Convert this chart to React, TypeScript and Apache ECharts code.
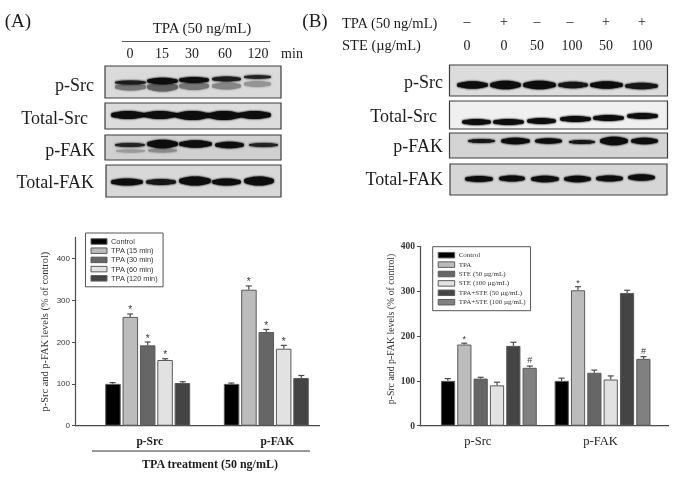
import React, { useEffect, useRef } from "react";
import * as echarts from "echarts";

const SERIF = '"Liberation Serif", serif';
const SANS = '"Liberation Sans", sans-serif';

const groups = ["p-Src", "p-FAK"];
const seriesNamesA = ["Control", "TPA (15 min)", "TPA (30 min)", "TPA (60 min)", "TPA (120 min)"];
const valuesA = [[100, 100], [260, 325], [192, 224], [157, 184], [102, 114]];
const errorsA = [[3, 2], [7, 9], [8, 6], [3, 8], [3, 6]];
const marksA = [["", ""], ["*", "*"], ["*", "*"], ["*", "*"], ["", ""]];
const coloursA = ["#000000", "#bcbcbc", "#666666", "#e2e2e2", "#444444"];

const seriesNamesB = ["Control", "TPA", "STE (50 µg/mL)", "STE (100 µg/mL)", "TPA+STE (50 µg/mL)", "TPA+STE (100 µg/mL)"];
const valuesB = [[100, 100], [181, 302], [105, 118], [90, 103], [178, 296], [129, 149]];
const errorsB = [[5, 6], [3, 8], [3, 6], [7, 8], [8, 6], [4, 5]];
const marksB = [["", ""], ["*", "*"], ["", ""], ["", ""], ["", ""], ["#", "#"]];
const coloursB = ["#000000", "#bcbcbc", "#666666", "#e2e2e2", "#444444", "#808080"];

const yTicksA = [0, 100, 200, 300, 400];
const yTicksB = [0, 100, 200, 300, 400];
const minutes = ["0", "15", "30", "60", "120"];
const tpaSigns = ["–", "+", "–", "–", "+", "+"];
const steDoses = ["0", "0", "50", "100", "50", "100"];

type Band = [number, number, number, number, string];
type Panel = { label: string; box: [number, number, number, number]; bg: string; bands: Band[] };

const panelsA: Panel[] = [
  { label: "p-Src", box: [105, 66, 176, 32], bg: "#dadada", bands: [
    [115, 146, 87, 7, "#747474"], [147, 178, 87, 9, "#606060"], [179, 209, 86, 8, "#747474"], [212, 241, 86, 7, "#858585"], [244, 271, 84, 6, "#959595"],
    [115, 146, 82.5, 4, "#1a1a1a"], [147, 178, 81, 6.5, "#111"], [179, 209, 80, 6, "#111"], [212, 241, 79, 5, "#1a1a1a"], [244, 271, 77, 3.5, "#222"],
  ] },
  { label: "Total-Src", box: [105, 103, 176, 26], bg: "#dcdcdc", bands: [
    [111, 145, 115, 8, "#0c0c0c"], [143, 177, 115, 8, "#0c0c0c"], [175, 210, 115.5, 9, "#0c0c0c"], [207, 241, 115.5, 9, "#0c0c0c"], [238, 271, 115, 8, "#0c0c0c"],
  ] },
  { label: "p-FAK", box: [105, 135, 176, 25], bg: "#d0d0d0", bands: [
    [116, 145, 151, 3, "#9a9a9a"], [148, 177, 150.5, 4, "#8a8a8a"],
    [115, 145, 145, 4, "#222"], [147, 178, 144, 8.5, "#0c0c0c"], [179, 212, 144, 7.5, "#0c0c0c"], [215, 244, 145, 6.5, "#111"], [249, 278, 145, 4, "#222"],
  ] },
  { label: "Total-FAK", box: [106, 165, 175, 32], bg: "#d8d8d8", bands: [
    [111, 143, 182, 7, "#111"], [146, 176, 182, 6, "#151515"], [179, 211, 181, 9, "#0c0c0c"], [212, 241, 182, 7, "#111"], [244, 274, 181, 9, "#0c0c0c"],
  ] },
];

const panelsB: Panel[] = [
  { label: "p-Src", box: [449.5, 65, 218, 31], bg: "#dcdcdc", bands: [
    [457, 488, 85, 7.5, "#0f0f0f"], [490, 521, 85, 8.5, "#0c0c0c"], [523, 556, 85, 8.5, "#0f0f0f"], [558, 588, 85, 6.5, "#151515"], [590, 623, 85, 7.5, "#0f0f0f"], [625, 658, 86, 6.5, "#151515"],
  ] },
  { label: "Total-Src", box: [449.5, 101, 218, 28], bg: "#f0f0f0", bands: [
    [462, 491, 122, 6, "#111"], [493, 524, 122, 6, "#111"], [527, 556, 121, 6, "#111"], [560, 591, 119, 6, "#111"], [593, 624, 118, 6, "#111"], [627, 658, 116, 6, "#111"],
  ] },
  { label: "p-FAK", box: [449.5, 133, 218, 25], bg: "#d4d4d4", bands: [
    [468, 495, 141, 4, "#151515"], [501, 530, 141, 6.5, "#0c0c0c"], [535, 562, 141, 5.5, "#111"], [569, 595, 142, 4, "#151515"], [600, 628, 141, 8.5, "#0c0c0c"], [631, 658, 141, 6.5, "#111"],
  ] },
  { label: "Total-FAK", box: [450, 164, 217, 31], bg: "#d6d6d6", bands: [
    [465, 493, 179, 6, "#111"], [499, 525, 178.5, 6, "#111"], [531, 559, 179, 6.5, "#111"], [564, 591, 179, 6.5, "#111"], [596, 623, 178.5, 6, "#111"], [628, 655, 177.5, 6.5, "#111"],
  ] },
];

const labelA: [number, number][] = [[94, 85], [88, 118], [95, 150], [94, 182]];
const labelB: [number, number][] = [[443, 82], [437, 116], [443, 146], [443, 179]];

function txt(text: string, x: number, y: number, size: number, align = "center", extra: any = {}) {
  return {
    type: "text",
    silent: true,
    style: {
      text, x, y, fill: "#1c1c1c",
      font: `${extra.weight || "normal"} ${size}px ${SERIF}`,
      textAlign: align, textVerticalAlign: "middle", align, verticalAlign: "middle",
    },
  };
}

function line(x1: number, y1: number, x2: number, y2: number, stroke: string, lineWidth = 1) {
  return { type: "line", silent: true, shape: { x1, y1, x2, y2 }, style: { stroke, lineWidth } };
}

function panelGraphics(p: Panel, lab: [number, number]) {
  const [x, y, w, h] = p.box;
  const out: any[] = [
    { type: "rect", silent: true, shape: { x, y, width: w, height: h }, style: { fill: p.bg, stroke: "#3c3c3c", lineWidth: 1.2 } },
  ];
  p.bands.forEach(([x0, x1, cy, bh, c]) => {
    const wing = bh * 0.55;
    out.push({
      type: "rect", silent: true,
      shape: { x: x0, y: cy - wing / 2, width: x1 - x0, height: wing, r: wing / 2 },
      style: { fill: c, shadowBlur: 2, shadowColor: c },
    });
    out.push({
      type: "ellipse", silent: true,
      shape: { cx: (x0 + x1) / 2, cy, rx: (x1 - x0) / 2 * 0.92, ry: bh / 2 },
      style: { fill: c, shadowBlur: 2, shadowColor: c },
    });
  });
  out.push(txt(p.label, lab[0], lab[1], 18, "right"));
  return out;
}

function barSeries(names: string[], values: number[][], colours: string[], axis: number, barWidth: number, barGap: string) {
  return names.map((name, i) => ({
    name, type: "bar", xAxisIndex: axis, yAxisIndex: axis, data: values[i], barWidth, barGap,
    itemStyle: { color: colours[i], borderColor: "#5a5a5a", borderWidth: 1 },
  }));
}

function errorSeries(values: number[][], errors: number[][], marks: string[][], axis: number, step: number, markSize: number) {
  const n = values.length;
  const rows: any[] = [];
  values.forEach((row, s) => row.forEach((v, c) => rows.push([c, v, v + errors[s][c], s, marks[s][c]])));
  return {
    type: "custom", xAxisIndex: axis, yAxisIndex: axis, silent: true, z: 1, data: rows,
    encode: { x: 0, y: [1, 2] },
    renderItem: (_: any, api: any) => {
      const c = api.value(0), s = api.value(3);
      const mark = rows[_.dataIndex][4];
      const base = api.coord([c, api.value(1)]);
      const tip = api.coord([c, api.value(2)]);
      const px = base[0] + (s - (n - 1) / 2) * step;
      const st = { stroke: "#4a4a4a", lineWidth: 1.2 };
      const children: any[] = [
        { type: "line", shape: { x1: px, y1: base[1], x2: px, y2: tip[1] }, style: st },
        { type: "line", shape: { x1: px - 3, y1: tip[1], x2: px + 3, y2: tip[1] }, style: st },
      ];
      if (mark) {
        children.push({
          type: "text",
          style: {
            text: mark, x: px, y: tip[1] - (mark === "*" ? 4 : 6), fill: "#333",
            font: `${markSize}px ${SANS}`, textAlign: "center", textVerticalAlign: "middle", align: "center", verticalAlign: "middle",
          },
        });
      }
      return { type: "group", children };
    },
  };
}

export default function App() {
  const ref = useRef<HTMLDivElement>(null);
  useEffect(() => {
    if (!ref.current) return;
    const chart = echarts.init(ref.current, undefined, { renderer: "svg" });
    const lanesA = [130, 162, 192, 225, 258];
    const lanesB = [467, 504, 537, 570, 606, 642];
    const graphic: any[] = [
      txt("(A)", 18, 20, 19),
      txt("(B)", 315, 20, 19),
      txt("TPA (50 ng/mL)", 202, 28, 15),
      line(122, 41.5, 270, 41.5, "#555"),
      ...minutes.map((m, i) => txt(m, lanesA[i], 53, 14)),
      txt("min", 292, 53, 14),
      txt("TPA (50 ng/mL)", 342, 23, 14.5, "left"),
      txt("STE (µg/mL)", 342, 45, 14.5, "left"),
      ...tpaSigns.map((m, i) => txt(m, lanesB[i], 21, 14)),
      ...steDoses.map((m, i) => txt(m, lanesB[i] + (i === 3 ? 2 : 0), 45, 14)),
      ...panelsA.flatMap((p, i) => panelGraphics(p, labelA[i])),
      ...panelsB.flatMap((p, i) => panelGraphics(p, labelB[i])),
      line(75, 425.7, 320, 425.7, "#4a4a4a", 1.2),
      line(420, 425.7, 669, 425.7, "#4a4a4a", 1.2),
      line(92, 451, 310, 451, "#333"),
      txt("TPA treatment (50 ng/mL)", 210, 464, 12, "center", { weight: "bold" }),
    ];
    const yAxisCommon = {
      type: "value", min: 0, nameLocation: "middle", nameRotate: 90, splitLine: { show: false },
      axisLine: { show: true, lineStyle: { color: "#4a4a4a", width: 1.2 } },
      axisTick: { show: true, length: 3, lineStyle: { color: "#4a4a4a" } },
    };
    const catAxis = (rich: any, bold: boolean, size: number) => ({
      type: "category", data: groups,
      axisLine: { show: false }, axisTick: { show: false },
      axisLabel: {
        margin: 9,
        formatter: (v: string) => `{${v === "p-Src" ? "a" : "b"}|${v}}`,
        rich: {
          a: { fontFamily: SERIF, fontSize: size, fontWeight: bold ? "bold" : "normal", color: "#222", ...rich.a },
          b: { fontFamily: SERIF, fontSize: size, fontWeight: bold ? "bold" : "normal", color: "#222", ...rich.b },
        },
      },
    });
    chart.setOption({
      animation: false,
      backgroundColor: "#ffffff",
      graphic: { elements: graphic },
      grid: [
        { left: 88.4, top: 237.4, width: 237.2, height: 188.3 },
        { left: 432, top: 246.3, width: 227.4, height: 179.4 },
      ],
      xAxis: [
        catAxis({ a: { padding: [0, 0, 0, 4] }, b: { padding: [0, 0, 0, 22] } }, true, 11.5),
        { ...catAxis({ a: { padding: [0, 22, 0, 0] }, b: { padding: [0, 4, 0, 0] } }, false, 12.5), gridIndex: 1 },
      ],
      yAxis: [
        {
          ...yAxisCommon, gridIndex: 0, max: 450, offset: 13.4,
          name: "p-Src and p-FAK levels (% of control)", nameGap: 26,
          nameTextStyle: { fontFamily: SERIF, fontSize: 10.4, color: "#333" },
          axisTick: { ...yAxisCommon.axisTick, customValues: yTicksA },
          axisLabel: { customValues: yTicksA, fontFamily: SANS, fontSize: 8, color: "#333", margin: 5 },
        },
        {
          ...yAxisCommon, gridIndex: 1, max: 400, offset: 12,
          name: "p-Src and p-FAK levels (% of control)", nameGap: 25,
          nameTextStyle: { fontFamily: SERIF, fontSize: 9.8, color: "#333", padding: [0, 0, 0, 14] },
          axisTick: { ...yAxisCommon.axisTick, customValues: yTicksB },
          axisLabel: { customValues: yTicksB, fontFamily: SERIF, fontSize: 9.5, fontWeight: "bold", color: "#333", margin: 5 },
        },
      ],
      legend: [
        {
          data: seriesNamesA.map((name) => ({ name, icon: "rect" })), orient: "vertical", left: 85.5, top: 233, selectedMode: false,
          itemWidth: 16, itemHeight: 5.5, itemGap: 1.2, padding: [4.5, 5, 4.5, 5], itemStyle: { borderWidth: 1 },
          borderColor: "#555", borderWidth: 1, backgroundColor: "#fff",
          textStyle: { fontFamily: SANS, fontSize: 7.4, color: "#333", padding: [0, 0, 0, -1], lineHeight: 8 },
        },
        {
          data: seriesNamesB.map((name) => ({ name, icon: "rect" })), orient: "vertical", left: 432.7, top: 246.7, selectedMode: false,
          itemWidth: 16.5, itemHeight: 5.5, itemGap: 1.4, padding: [4.5, 5, 4.5, 5], itemStyle: { borderWidth: 1 },
          borderColor: "#555", borderWidth: 1, backgroundColor: "#fff",
          textStyle: { fontFamily: SERIF, fontSize: 7, color: "#333", padding: [0, 0, 0, -1], lineHeight: 8 },
        },
      ],
      series: [
        ...barSeries(seriesNamesA, valuesA, coloursA, 0, 15.5, "12%"),
        errorSeries(valuesA, errorsA, marksA, 0, 17.5, 10),
        ...barSeries(seriesNamesB, valuesB, coloursB, 1, 14.2, "15%"),
        errorSeries(valuesB, errorsB, marksB, 1, 16.4, 9),
      ],
    });
    return () => chart.dispose();
  }, []);
  return (
    <div
      ref={ref}
      style={{ position: "absolute", left: 0, top: 0, width: 685, height: 496, filter: "blur(0.45px)" }}
    />
  );
}
